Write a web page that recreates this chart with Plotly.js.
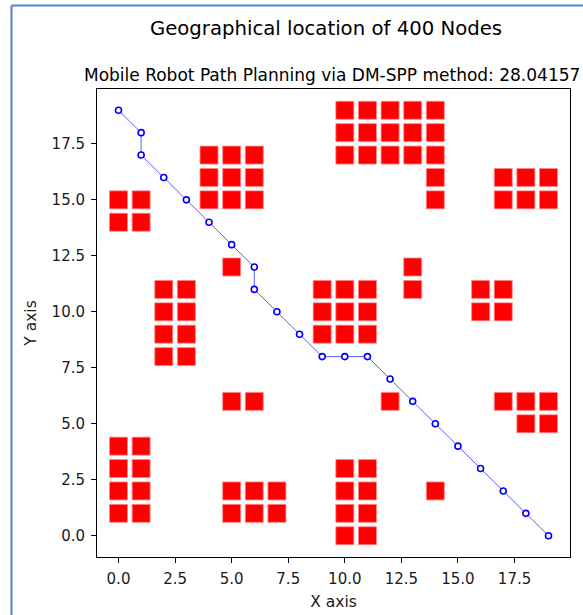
<!DOCTYPE html>
<html>
<head>
<meta charset="utf-8">
<script src="https://cdn.plot.ly/plotly-3.0.1.min.js"></script>
<style>
  html, body { margin: 0; padding: 0; background: #ffffff; }
  #chart { width: 583px; height: 615px; }
</style>
</head>
<body>
<div id="chart"></div>
<script>
// Grid cells occupied by obstacles (x, y pairs)
const obstacleX = [
  0, 1, 0, 1,
  4, 5, 6, 4, 5, 6, 4, 5, 6,
  10, 11, 12, 13, 14, 10, 11, 12, 13, 14, 10, 11, 12, 13, 14, 14, 14,
  17, 18, 19, 17, 18, 19,
  5,
  13, 13,
  2, 3, 2, 3, 2, 3, 2, 3,
  9, 10, 11, 9, 10, 11, 9, 10, 11,
  16, 17, 16, 17,
  5, 6,
  12,
  17, 18, 19, 18, 19,
  0, 1, 0, 1, 0, 1, 0, 1,
  5, 6, 7, 5, 6, 7,
  10, 11, 10, 11, 10, 11, 10, 11,
  14
];
const obstacleY = [
  15, 15, 14, 14,
  17, 17, 17, 16, 16, 16, 15, 15, 15,
  19, 19, 19, 19, 19, 18, 18, 18, 18, 18, 17, 17, 17, 17, 17, 16, 15,
  16, 16, 16, 15, 15, 15,
  12,
  12, 11,
  11, 11, 10, 10, 9, 9, 8, 8,
  11, 11, 11, 10, 10, 10, 9, 9, 9,
  11, 11, 10, 10,
  6, 6,
  6,
  6, 6, 6, 5, 5,
  4, 4, 3, 3, 2, 2, 1, 1,
  2, 2, 2, 1, 1, 1,
  3, 3, 2, 2, 1, 1, 0, 0,
  2
];

// Planned route from start (0, 19) to goal (19, 0)
const pathX = [0, 1, 1, 2, 3, 4, 5, 6, 6, 7, 8, 9, 10, 11, 12, 13, 14, 15, 16, 17, 18, 19];
const pathY = [19, 18, 17, 16, 15, 14, 13, 12, 11, 10, 9, 8, 8, 8, 7, 6, 5, 4, 3, 2, 1, 0];

const nodeCount = 400;
const pathCost = "28.04157";
const tickValues = [0, 2.5, 5, 7.5, 10, 12.5, 15, 17.5];

const W = 583, H = 615;
const plotL = 97, plotR = 570, plotT = 89, plotB = 557;
const plotW = plotR - plotL, plotH = plotB - plotT;
const px = v => (v - plotL) / plotW;
const py = v => (plotB - v) / plotH;

const fontFamily = "DejaVu Sans, sans-serif";

const obstacles = {
  x: obstacleX,
  y: obstacleY,
  type: "scatter",
  mode: "markers",
  hoverinfo: "skip",
  marker: {
    symbol: "square",
    size: 18,
    color: "#ff0000",
    line: { width: 0.8, color: "#ff8a8a" }
  },
  showlegend: false
};

const route = {
  x: pathX,
  y: pathY,
  type: "scatter",
  mode: "lines+markers",
  line: { color: "rgba(40,40,255,0.75)", width: 1 },
  marker: {
    symbol: "circle",
    size: 6,
    color: "#ffffff",
    line: { color: "#0000ff", width: 1.6 }
  },
  showlegend: false
};

const axisBase = {
  range: [-0.95, 19.95],
  tickvals: tickValues,
  ticktext: tickValues.map(v => v.toFixed(1)),
  ticks: "outside",
  ticklen: 5,
  tickwidth: 1,
  tickcolor: "#000000",
  ticklabelstandoff: 3,
  showgrid: false,
  zeroline: false,
  showline: true,
  mirror: true,
  linecolor: "#000000",
  linewidth: 1,
  tickfont: { family: fontFamily, size: 15, color: "#1a1a1a" }
};

const layout = {
  width: W,
  height: H,
  margin: { l: plotL, r: W - plotR, t: plotT, b: H - plotB, pad: 0 },
  paper_bgcolor: "#ffffff",
  plot_bgcolor: "#ffffff",
  font: { family: fontFamily, color: "#000000" },
  title: {
    text: "Geographical location of " + nodeCount + " Nodes",
    font: { family: fontFamily, size: 19.7, color: "#000000" },
    x: 326 / W,
    xref: "container",
    xanchor: "center",
    y: 1 - 28 / H,
    yref: "container",
    yanchor: "middle"
  },
  xaxis: Object.assign({}, axisBase, {
    title: { text: "X axis", font: { family: fontFamily, size: 15.5, color: "#1a1a1a" }, standoff: 9 }
  }),
  yaxis: Object.assign({}, axisBase, {
    title: { text: "Y axis", font: { family: fontFamily, size: 15.5, color: "#1a1a1a" }, standoff: 11 }
  }),
  annotations: [{
    text: "Mobile Robot Path Planning via DM-SPP method: " + pathCost,
    xref: "paper", yref: "paper",
    x: 0.5 - 2 / plotW, y: py(75),
    xanchor: "center", yanchor: "middle",
    showarrow: false,
    font: { family: fontFamily, size: 17, color: "#000000" }
  }],
  shapes: [
    // window frame around the figure
    { type: "line", xref: "paper", yref: "paper",
      x0: px(11.5), x1: px(620), y0: py(5.5), y1: py(5.5),
      line: { color: "#4f7fd6", width: 2 } },
    { type: "line", xref: "paper", yref: "paper",
      x0: px(11.5), x1: px(11.5), y0: py(5.5), y1: py(640),
      line: { color: "#4f7fd6", width: 2 } }
  ]
};

Plotly.newPlot("chart", [obstacles, route], layout, { displayModeBar: false, staticPlot: true });
</script>
</body>
</html>
